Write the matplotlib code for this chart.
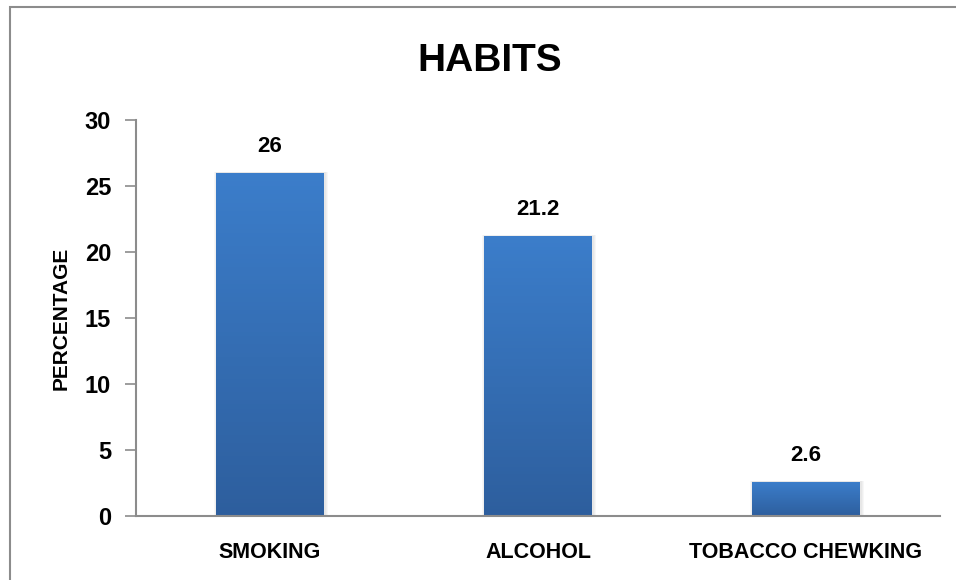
import numpy as np
import matplotlib.pyplot as plt
from matplotlib.patches import Rectangle
from matplotlib.colors import LinearSegmentedColormap

categories = ["SMOKING", "ALCOHOL", "TOBACCO CHEWKING"]
values = [26, 21.2, 2.6]
value_labels = ["26", "21.2", "2.6"]
yticks = [0, 5, 10, 15, 20, 25, 30]

plt.rcParams['font.family'] = ['Liberation Sans', 'DejaVu Sans']
plt.rcParams['font.weight'] = 'bold'

fig = plt.figure(figsize=(9.56, 5.8), dpi=100)
ax = fig.add_axes([0.1423, 0.1103, 0.841, 0.6828])

# outer chart border (right and bottom edges fall outside the image)
fig.patches.append(Rectangle((10 / 956, -0.05), 1.0, 1.05 - 7 / 580,
                             transform=fig.transFigure, fill=False,
                             edgecolor="#8c8c8c", linewidth=1.5))

grad = LinearSegmentedColormap.from_list("bar", ["#2d5e9d", "#3b7dca"])
x = np.arange(len(categories))
w = 0.405
vals = np.array(values)

# faint shadow at the sides of the bars
for k in range(1, 4):
    ax.bar(x + 0.003, vals + 0.03 * k, width=w + 0.006 * k, color="black",
           alpha=0.03, linewidth=0, zorder=1)

# vertical gradient, built from stacked slices of each bar
n = 80
for i in range(n):
    lo = vals * i / n
    hi = vals * (i + 1) / n
    ax.bar(x, hi - lo, bottom=lo, width=w, color=grad((i + 0.5) / n),
           linewidth=0, antialiased=False, zorder=2)

for xi, v, lab in zip(x, values, value_labels):
    ax.text(xi, v + 1.2, lab, ha="center", va="bottom", fontsize=16, fontweight="bold")

ax.set_xlim(-0.5, len(categories) - 0.5)
ax.set_ylim(0, 30)
ax.set_yticks(yticks)
ax.set_xticks(x)
ax.set_xticklabels(categories, fontsize=15.5, fontweight="bold")
ax.tick_params(axis="x", length=0, pad=19)
ax.tick_params(axis="y", length=8, width=1.2, color="#8c8c8c", labelsize=17, pad=10)
for t in ax.get_yticklabels():
    t.set_fontweight("bold")

for s in ["top", "right"]:
    ax.spines[s].set_visible(False)
for s in ["left", "bottom"]:
    ax.spines[s].set_color("#8c8c8c")
    ax.spines[s].set_linewidth(1.5)
    ax.spines[s].set_zorder(3)

ax.set_ylabel("PERCENTAGE", fontsize=15, fontweight="bold", labelpad=10)
fig.text(0.5125, 0.895, "HABITS", ha="center", va="center", fontsize=28, fontweight="bold")

fig.savefig("out.png", dpi=100)
